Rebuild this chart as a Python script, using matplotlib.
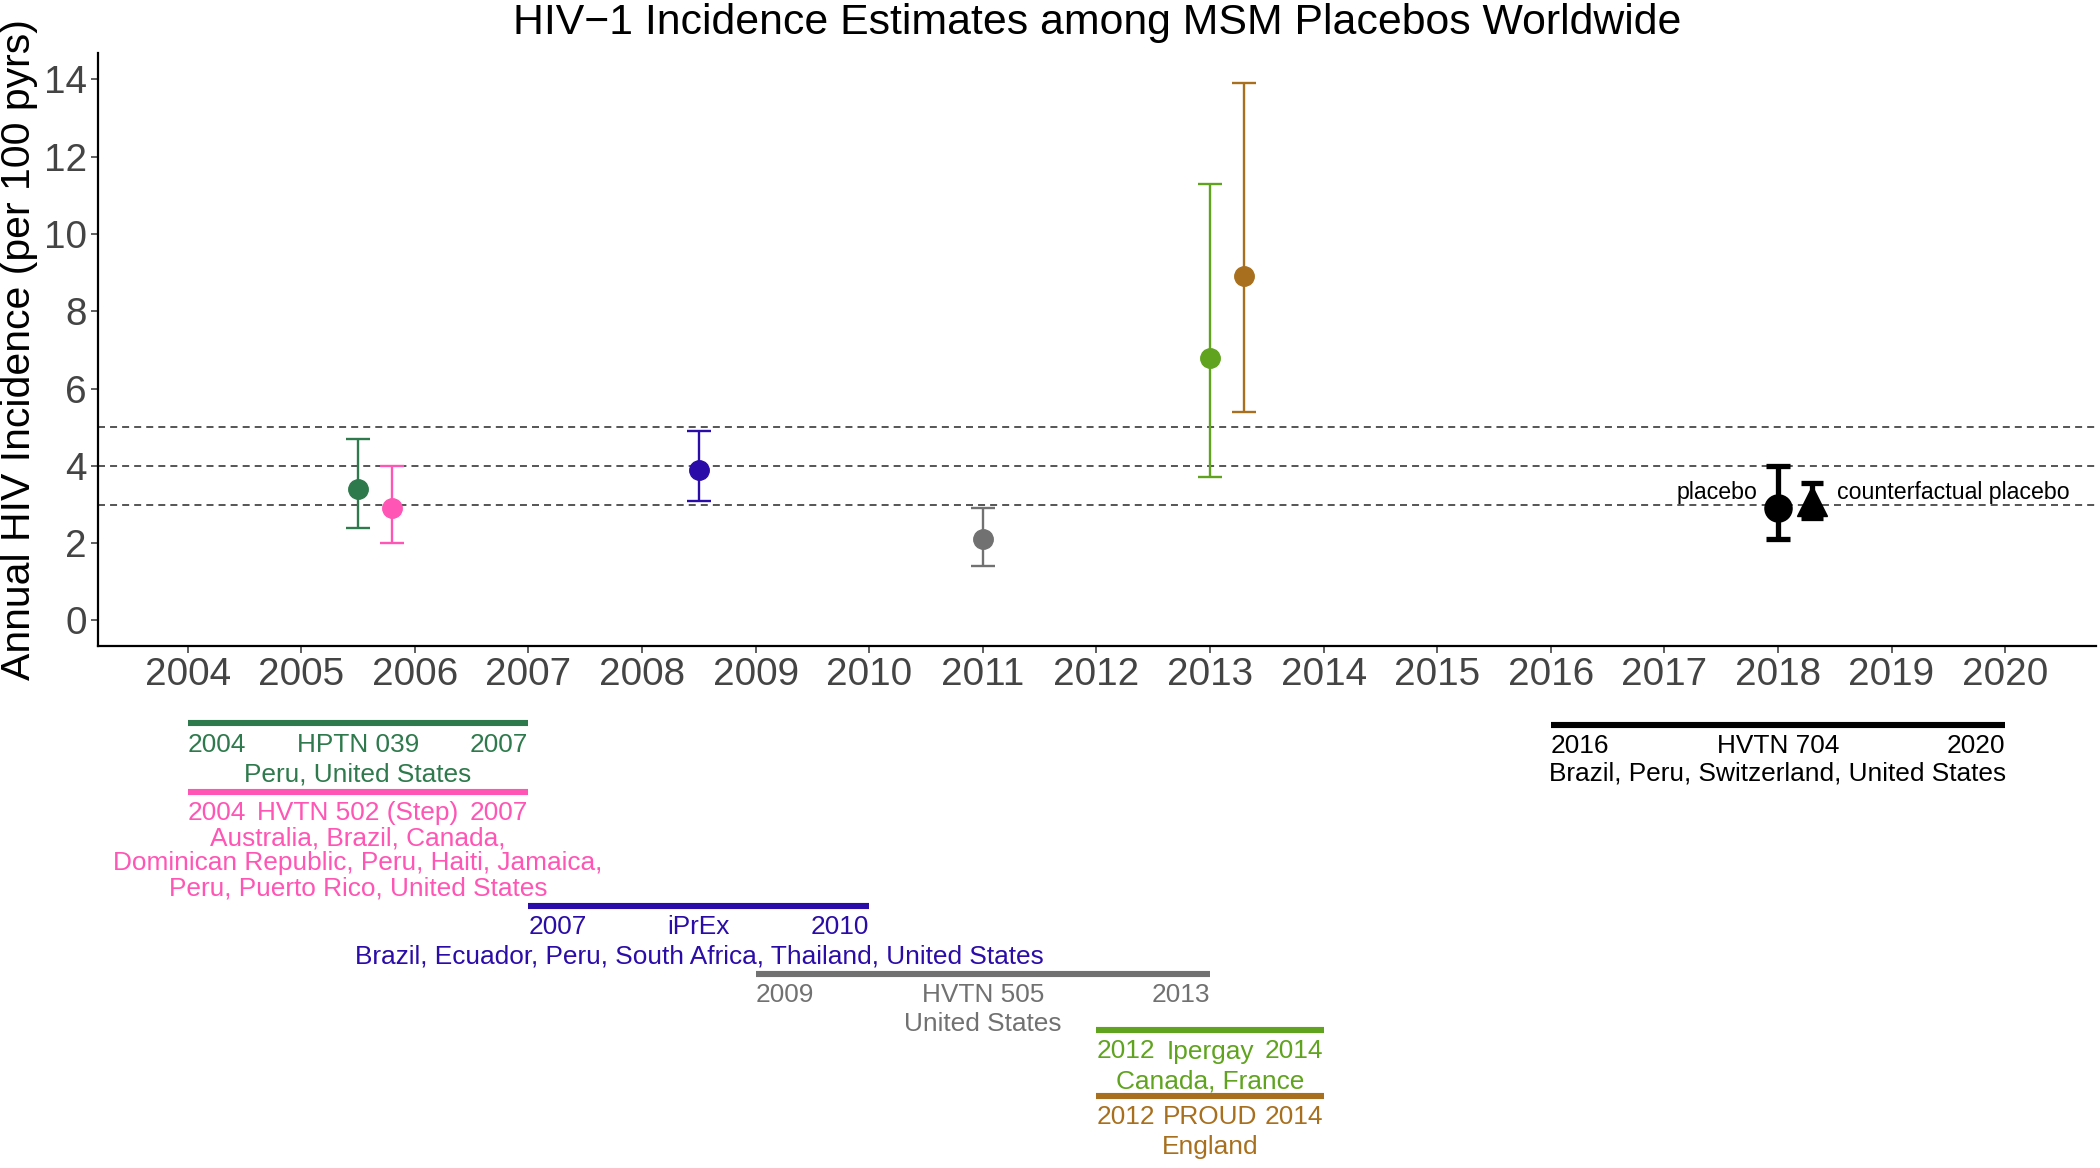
import matplotlib
matplotlib.use("Agg")
import matplotlib.pyplot as plt
from matplotlib.transforms import blended_transform_factory

# ---------------- data ----------------
trials = ["HPTN 039", "HVTN 502 (Step)", "iPrEx", "HVTN 505", "Ipergay", "PROUD", "HVTN 704"]
start_years = [2004, 2004, 2007, 2009, 2012, 2012, 2016]
end_years = [2007, 2007, 2010, 2013, 2014, 2014, 2020]
countries = [
    ["Peru, United States"],
    ["Australia, Brazil, Canada,", "Dominican Republic, Peru, Haiti, Jamaica,",
     "Peru, Puerto Rico, United States"],
    ["Brazil, Ecuador, Peru, South Africa, Thailand, United States"],
    ["United States"],
    ["Canada, France"],
    ["England"],
    ["Brazil, Peru, Switzerland, United States"],
]
colors = ["#2E7A4C", "#FF55B5", "#2A0CA8", "#717171", "#5FA31E", "#A8701E", "#000000"]

point_x = [2005.5, 2005.8, 2008.5, 2011.0, 2013.0, 2013.3]
incidence = [3.4, 2.9, 3.9, 2.1, 6.8, 8.9]
ci_lower = [2.4, 2.0, 3.1, 1.4, 3.7, 5.4]
ci_upper = [4.7, 4.0, 4.9, 2.9, 11.3, 13.9]

hvtn704_x = [2018.0, 2018.3]
hvtn704_y = [2.9, 3.1]
hvtn704_lo = [2.1, 2.65]
hvtn704_hi = [4.0, 3.55]
hvtn704_labels = ["placebo", "counterfactual placebo"]

ref_lines = [3, 4, 5]
x_ticks = list(range(2004, 2021))
y_ticks = [0, 2, 4, 6, 8, 10, 12, 14]

# ---------------- figure ----------------
W, H = 2100, 1168
fig = plt.figure(figsize=(W / 100, H / 100), dpi=100)
plt.rcParams['font.family'] = ['Liberation Sans', 'DejaVu Sans']
ax = fig.add_axes([98 / W, 1 - 646 / H, (2096 - 98) / W, (646 - 53) / H])

ax.set_xlim(2003.21, 2020.80)
ax.set_ylim(-0.66, 14.68)

for yv in ref_lines:
    ax.axhline(yv, color="#555555", lw=1.4, ls=(0, (3.6, 2.6)), zorder=1)

for i in range(len(point_x)):
    y = incidence[i]
    ax.errorbar([point_x[i]], [y], yerr=[[y - ci_lower[i]], [ci_upper[i] - y]],
                fmt='o', color=colors[i], ms=14, capsize=8.4, elinewidth=1.7,
                capthick=1.7, zorder=3)

markers = ['o', '^']
msizes = [19.5, 21]
caps = [8.6, 7.9]
for j in range(2):
    y = hvtn704_y[j]
    ax.errorbar([hvtn704_x[j]], [y], yerr=[[y - hvtn704_lo[j]], [hvtn704_hi[j] - y]],
                fmt=markers[j], color="black", ms=msizes[j], capsize=caps[j],
                elinewidth=3.8, capthick=3.8, zorder=3)

ax.text(2017.82, 3.32, hvtn704_labels[0], ha='right', va='center', fontsize=16.7, color='black')
ax.text(2018.52, 3.32, hvtn704_labels[1], ha='left', va='center', fontsize=16.7, color='black')

ax.set_xticks(x_ticks)
ax.set_xticklabels([str(t) for t in x_ticks])
ax.set_yticks(y_ticks)
ax.tick_params(axis='both', labelsize=27.8, colors='#444444', length=5, width=1.2, pad=3)
for s in ['top', 'right']:
    ax.spines[s].set_visible(False)
for s in ['left', 'bottom']:
    ax.spines[s].set_linewidth(1.6)
    ax.spines[s].set_color('black')

ax.set_ylabel("Annual HIV Incidence (per 100 pyrs)", fontsize=29.5, color='black', labelpad=4)
ax.set_title("HIV\u22121 Incidence Estimates among MSM Placebos Worldwide", fontsize=30.8,
             color='black', pad=14)

# ---------------- timeline (below axis) ----------------
trans = blended_transform_factory(ax.transData, fig.transFigure)
bar_py = [723, 791.5, 905.5, 973.5, 1030, 1095.5, 724.5]
country_off = [58.5, 54, 58, 57.5, 58, 58.5, 55.5]
fs = 18.9
for i, name in enumerate(trials):
    c = colors[i]
    x0, x1 = start_years[i], end_years[i]
    yb = 1 - bar_py[i] / H
    ax.plot([x0, x1], [yb, yb], transform=trans, color=c, lw=4.4,
            solid_capstyle='butt', clip_on=False)
    y1 = 1 - (bar_py[i] + 28.5) / H
    ax.text(x0, y1, str(x0), transform=trans, ha='left', va='baseline', fontsize=fs, color=c)
    ax.text((x0 + x1) / 2, y1, name, transform=trans, ha='center', va='baseline', fontsize=fs, color=c)
    ax.text(x1, y1, str(x1), transform=trans, ha='right', va='baseline', fontsize=fs, color=c)
    for k, line in enumerate(countries[i]):
        yk = 1 - (bar_py[i] + country_off[i] + 24.8 * k) / H
        ax.text((x0 + x1) / 2, yk, line, transform=trans, ha='center', va='baseline',
                fontsize=fs, color=c)

fig.savefig("out.png", dpi=100)
